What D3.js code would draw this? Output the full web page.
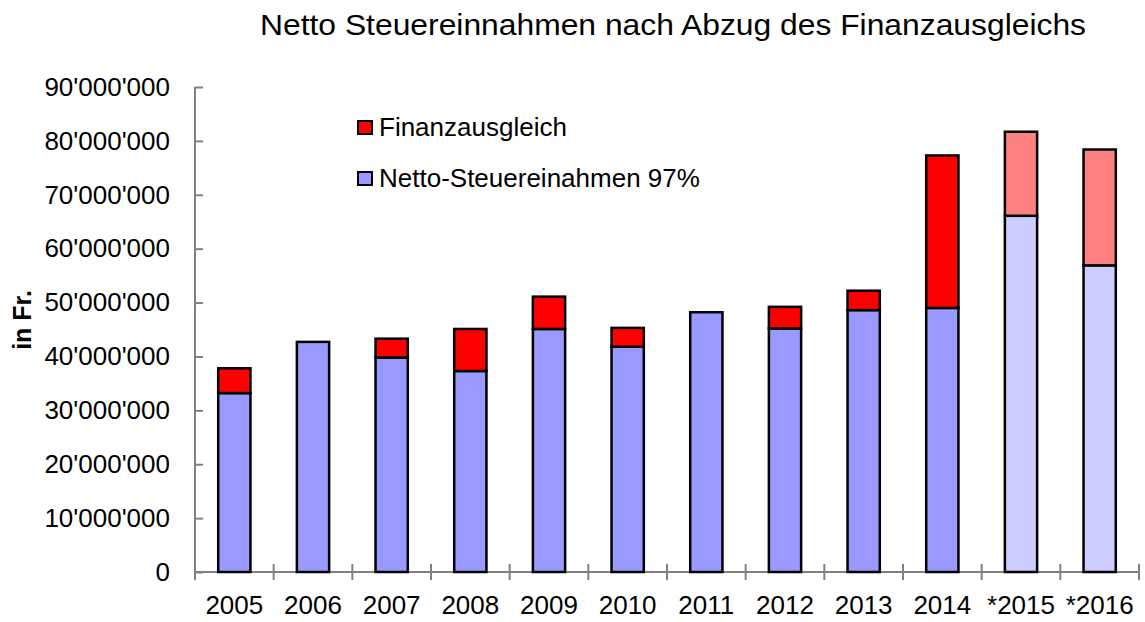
<!DOCTYPE html>
<html>
<head>
<meta charset="utf-8">
<script src="https://cdn.jsdelivr.net/npm/d3@7"></script>
<style>
  body { margin: 0; background: #fff; }
  text { font-family: "Liberation Sans", Arial, sans-serif; fill: #000; }
</style>
</head>
<body>
<div id="chart"></div>
<script>
// values (Fr.)
var years = ["2005", "2006", "2007", "2008", "2009", "2010", "2011", "2012", "2013", "2014", "*2015", "*2016"];
var netto = [33200000, 42700000, 39800000, 37300000, 45100000, 41800000, 48200000, 45200000, 48600000, 49000000, 66100000, 56900000];
var finanz = [4600000, 0, 3500000, 7800000, 6000000, 3500000, 0, 4000000, 3600000, 28300000, 15600000, 21500000];
var yTicks = [0, 10000000, 20000000, 30000000, 40000000, 50000000, 60000000, 70000000, 80000000, 90000000];
var seriesNames = ["Finanzausgleich", "Netto-Steuereinahmen 97%"];

var colors = {
  netto: "#9999FF", nettoEst: "#CCCCFF",
  finanz: "#FF0000", finanzEst: "#FF8080"
};

var width = 1145, height = 622;
var margin = {top: 87, right: 6, bottom: 50, left: 195};

var svg = d3.select("#chart")
  .append("svg")
    .attr("width", width)
    .attr("height", height);

var x = d3.scaleBand()
  .domain(years)
  .range([margin.left, width - margin.right])
  .padding(0);

var y = d3.scaleLinear()
  .domain([0, 90000000])
  .range([height - margin.bottom, margin.top]);

var barW = x.bandwidth() * 0.41;
var isEst = function(d) { return d.charAt(0) == "*"; };

// title
svg.append("text")
  .attr("x", 673)
  .attr("y", 35)
  .attr("text-anchor", "middle")
  .style("font-size", "30px")
  .attr("textLength", 826)
  .attr("lengthAdjust", "spacingAndGlyphs")
  .text("Netto Steuereinnahmen nach Abzug des Finanzausgleichs");

// y axis
var fmt = function(v) { return d3.format(",")(v).replace(/,/g, "'"); };
var yAxis = svg.append("g")
  .attr("transform", "translate(" + margin.left + ",0)")
  .call(d3.axisLeft(y).tickValues(yTicks).tickFormat(fmt).tickSize(9).tickPadding(16));
yAxis.selectAll(".tick line").attr("x2", 8);
yAxis.select(".domain").attr("d", "M0," + y(0) + "V" + y(90000000));

// x axis (ticks on the category boundaries)
var xAxis = svg.append("g")
  .attr("transform", "translate(0," + y(0) + ")");
xAxis.append("line")
  .attr("x1", x.range()[0]).attr("x2", x.range()[1]);
xAxis.selectAll(".xt")
  .data(years.concat([null]))
  .enter()
  .append("line")
    .attr("class", "xt")
    .attr("x1", function(d, i) { return x.range()[0] + i * x.bandwidth(); })
    .attr("x2", function(d, i) { return x.range()[0] + i * x.bandwidth(); })
    .attr("y1", -8).attr("y2", 8);
xAxis.selectAll(".xl")
  .data(years)
  .enter()
  .append("text")
    .attr("class", "xl")
    .attr("x", function(d) { return x(d) + x.bandwidth() / 2; })
    .attr("y", 42)
    .attr("text-anchor", "middle")
    .style("font-size", "26px")
    .text(function(d) { return d; });

svg.selectAll(".domain, .tick line, g line")
  .attr("stroke", "#808080")
  .attr("stroke-width", 2);
yAxis.selectAll(".tick text").style("font-size", "26px");

// y axis title
svg.append("text")
  .attr("transform", "translate(31,320) rotate(-90)")
  .attr("text-anchor", "middle")
  .style("font-size", "25px")
  .style("font-weight", "bold")
  .text("in Fr.");

// bars: netto
svg.append("g")
  .selectAll("rect")
  .data(years)
  .enter()
  .append("rect")
    .attr("x", function(d) { return x(d) + (x.bandwidth() - barW) / 2; })
    .attr("width", barW)
    .attr("y", function(d, i) { return y(netto[i]); })
    .attr("height", function(d, i) { return y(0) - y(netto[i]); })
    .attr("fill", function(d) { return isEst(d) ? colors.nettoEst : colors.netto; })
    .attr("stroke", "#000")
    .attr("stroke-width", 2.5);

// bars: finanzausgleich stacked on top
svg.append("g")
  .selectAll("rect")
  .data(years.filter(function(d, i) { return finanz[i] > 0; }))
  .enter()
  .append("rect")
    .attr("x", function(d) { return x(d) + (x.bandwidth() - barW) / 2; })
    .attr("width", barW)
    .attr("y", function(d) { var i = years.indexOf(d); return y(netto[i] + finanz[i]); })
    .attr("height", function(d) { var i = years.indexOf(d); return y(netto[i]) - y(netto[i] + finanz[i]); })
    .attr("fill", function(d) { return isEst(d) ? colors.finanzEst : colors.finanz; })
    .attr("stroke", "#000")
    .attr("stroke-width", 2.5);

// legend
var legend = svg.append("g")
  .selectAll("g")
  .data(seriesNames)
  .enter()
  .append("g")
    .attr("transform", function(d, i) { return "translate(358," + (121 + i * 51) + ")"; });
legend.append("rect")
  .attr("width", 14).attr("height", 13)
  .attr("fill", function(d, i) { return i == 0 ? colors.finanz : colors.netto; })
  .attr("stroke", "#000")
  .attr("stroke-width", 2);
legend.append("text")
  .attr("x", 21)
  .attr("y", 15)
  .style("font-size", "26px")
  .text(function(d) { return d; });
</script>
</body>
</html>
